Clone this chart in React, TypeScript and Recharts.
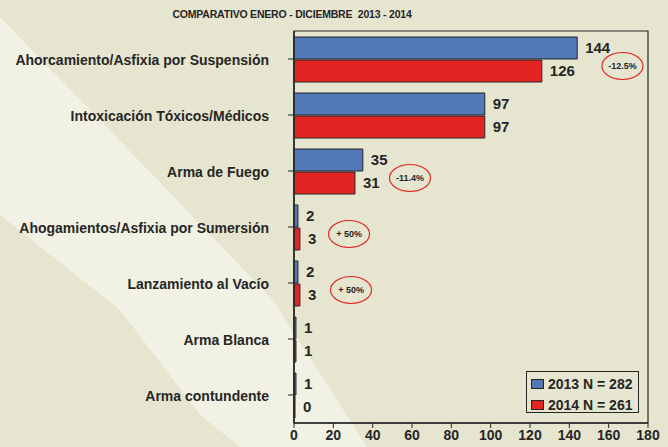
import React from "react";
import {
  BarChart,
  Bar,
  XAxis,
  YAxis,
  LabelList,
  Legend,
  ReferenceArea,
  ReferenceDot,
} from "recharts";

const categories = [
  "Ahorcamiento/Asfixia por Suspensión",
  "Intoxicación Tóxicos/Médicos",
  "Arma de Fuego",
  "Ahogamientos/Asfixia por Sumersión",
  "Lanzamiento al Vacío",
  "Arma Blanca",
  "Arma contundente",
];
const values2013 = [144, 97, 35, 2, 2, 1, 1];
const values2014 = [126, 97, 31, 3, 3, 1, 0];
const seriesNames = ["2013 N = 282", "2014 N = 261"];
const xTicks = [0, 20, 40, 60, 80, 100, 120, 140, 160, 180];

// variation notes circled in red, anchored at a value on the x scale
const changeCategories = [
  "Ahorcamiento/Asfixia por Suspensión",
  "Arma de Fuego",
  "Ahogamientos/Asfixia por Sumersión",
  "Lanzamiento al Vacío",
];
const changeLabels = ["-12.5%", "-11.4%", "+ 50%", "+ 50%"];
const changeAt = [167, 59, 28, 29];

const data = categories.map((name, i) => ({
  name,
  y2013: values2013[i],
  y2014: values2014[i],
}));

const FONT = "'Liberation Sans Narrow', 'Liberation Sans', Arial, sans-serif";
const BLUE = "#5378b8";
const RED = "#e32423";
const INK = "#262626";
const BG = "#e6e5d0";
const BG_LIGHT = "#f1f1e4";

const CategoryTick = ({ x, y, payload }: any) => (
  <text
    x={x - 17}
    y={y}
    dy={6}
    textAnchor="end"
    fill={INK}
    style={{ fontFamily: FONT, fontWeight: 700, fontSize: 14 }}
  >
    {payload.value}
  </text>
);

const ChangeNote = ({ cx, cy, text }: any) => (
  <g>
    <ellipse cx={cx} cy={cy + 7} rx={20.5} ry={13.5} fill="none" stroke={RED} strokeWidth={1.2} />
    <text
      x={cx}
      y={cy + 10}
      textAnchor="middle"
      fill={INK}
      style={{ fontFamily: FONT, fontWeight: 700, fontSize: 9 }}
    >
      {text}
    </text>
  </g>
);

const LegendBox = () => (
  <div
    style={{
      width: 113,
      height: 42,
      border: `1.5px solid ${INK}`,
      background: BG,
      fontFamily: FONT,
      fontWeight: 700,
      fontSize: 14,
      lineHeight: "16px",
      color: INK,
      padding: "4px 0 0 4px",
      boxSizing: "border-box",
    }}
  >
    {[BLUE, RED].map((c, i) => (
      <div key={i} style={{ display: "flex", alignItems: "center", height: 16, marginBottom: 5 }}>
        <span
          style={{
            width: 11,
            height: 8,
            background: c,
            border: `1px solid ${INK}`,
            marginRight: 4,
            flexShrink: 0,
          }}
        />
        <span style={{ whiteSpace: "nowrap" }}>{seriesNames[i]}</span>
      </div>
    ))}
  </div>
);

export default function App() {
  return (
    <div style={{ position: "absolute", left: 0, top: 0, width: 668, height: 447, background: BG }}>
      <svg width={668} height={447} style={{ position: "absolute", left: 0, top: 0 }}>
        <polygon
          points="0,17 100,120 273,300 367,447 240,447 200,415 120,310 0,215"
          fill={BG_LIGHT}
        />
      </svg>
      <div
        style={{
          position: "absolute",
          left: 0,
          top: 8,
          width: 584,
          textAlign: "center",
          fontFamily: FONT,
          fontWeight: 700,
          fontSize: 10.5,
          letterSpacing: -0.2,
          color: INK,
        }}
      >
        COMPARATIVO ENERO - DICIEMBRE&nbsp;&nbsp;2013 - 2014
      </div>
      <div style={{ position: "absolute", left: 0, top: 0 }}>
        <BarChart
          width={668}
          height={447}
          data={data}
          layout="vertical"
          margin={{ top: 31, right: 20, bottom: 0, left: 0 }}
          barSize={22}
          barGap={1}
        >
          <XAxis
            type="number"
            domain={[0, 180]}
            ticks={xTicks}
            interval={0}
            height={24}
            axisLine={{ stroke: INK, strokeWidth: 1.5 }}
            tickLine={{ stroke: INK }}
            tickSize={5}
            tick={{ fill: INK, fontFamily: FONT, fontWeight: 700, fontSize: 14 }}
          />
          <YAxis
            type="category"
            dataKey="name"
            width={294}
            axisLine={{ stroke: INK, strokeWidth: 1.5 }}
            tickLine={{ stroke: INK }}
            tickSize={6}
            tick={<CategoryTick />}
            interval={0}
          />
          <ReferenceArea x1={0} x2={180} fill="none" stroke={INK} strokeWidth={1.2} />
          <Bar dataKey="y2013" name={seriesNames[0]} fill={BLUE} stroke={INK} strokeWidth={1} isAnimationActive={false}>
            <LabelList
              dataKey="y2013"
              position="right"
              offset={8}
              fill={INK}
              style={{ fontFamily: FONT, fontWeight: 700, fontSize: 15 }}
            />
          </Bar>
          <Bar
            dataKey="y2014"
            name={seriesNames[1]}
            fill={RED}
            stroke={INK}
            strokeWidth={1}
            minPointSize={1}
            isAnimationActive={false}
          >
            <LabelList
              dataKey="y2014"
              position="right"
              offset={8}
              fill={INK}
              style={{ fontFamily: FONT, fontWeight: 700, fontSize: 15 }}
            />
          </Bar>
          {changeCategories.map((c, i) => (
            <ReferenceDot
              key={c}
              x={changeAt[i]}
              y={c}
              r={0}
              shape={(p: any) => <ChangeNote cx={p.cx} cy={p.cy} text={changeLabels[i]} />}
            />
          ))}
          <Legend
            layout="vertical"
            align="center"
            verticalAlign="middle"
            content={<LegendBox />}
            wrapperStyle={{ left: 526, top: 371, width: 113, height: 42 }}
          />
        </BarChart>
      </div>
    </div>
  );
}
